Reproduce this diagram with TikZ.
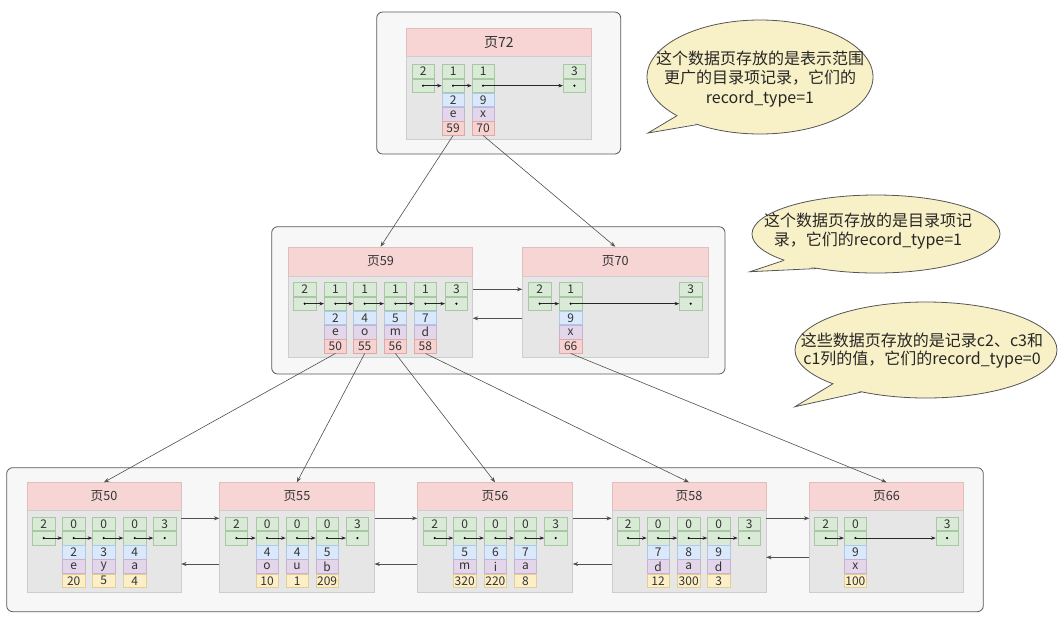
\documentclass[tikz,border=0pt]{standalone}
\usepackage{fontspec}
\setmainfont{Noto Sans CJK SC}
\usetikzlibrary{shapes.geometric,arrows.meta,calc}
\definecolor{txt}{HTML}{333333}
\definecolor{gfill}{HTML}{D9EBD7}
\definecolor{gline}{HTML}{A8C8A4}
\definecolor{bfill}{HTML}{DAE8FC}
\definecolor{bline}{HTML}{B0C8E8}
\definecolor{pfill}{HTML}{E3D6EA}
\definecolor{pline}{HTML}{C6B2D2}
\definecolor{rfill}{HTML}{F8D2D0}
\definecolor{rline}{HTML}{DDAAA8}
\definecolor{yfill}{HTML}{FCEFC8}
\definecolor{yline}{HTML}{E2CF98}
\definecolor{hfill}{HTML}{F7D5D5}
\definecolor{hline}{HTML}{E2BDBD}
\definecolor{bdfill}{HTML}{E6E6E6}
\definecolor{bdline}{HTML}{CDCDCD}
\definecolor{ofill}{HTML}{F7F7F7}
\definecolor{oline}{HTML}{5A5A5A}
\definecolor{lnk}{HTML}{505050}
\definecolor{bubfill}{HTML}{F8F0C6}
\definecolor{bubline}{HTML}{555555}
\tikzset{
  cellbase/.style={draw, line width=0.4pt, minimum width=16.7pt, minimum height=10.275pt,
    inner sep=0pt, font=\fontsize{9}{9}\selectfont, text=txt},
  gc/.style={cellbase, fill=gfill, draw=gline},
  bc/.style={cellbase, fill=bfill, draw=bline},
  pc/.style={cellbase, fill=pfill, draw=pline},
  rc/.style={cellbase, fill=rfill, draw=rline},
  yc/.style={cellbase, fill=yfill, draw=yline},
  hdr/.style={draw=hline, fill=hfill, inner sep=0pt, line width=0.4pt,
    font=\fontsize{9.5}{10}\selectfont, text=txt},
  bdy/.style={draw=bdline, fill=bdfill, inner sep=0pt, line width=0.4pt},
  outerbox/.style={draw=oline, fill=ofill, rounded corners=4.5pt, line width=0.6pt},
  ptr/.style={-{Stealth[length=3.5pt,width=2.6pt]}, line width=0.5pt, draw=black!85},
  link/.style={-{Stealth[length=4pt,width=3pt]}, line width=0.45pt, draw=lnk},
  bubble/.style={ellipse, draw=bubline, fill=bubfill, line width=0.6pt, inner sep=0pt},
  bubtext/.style={align=center, text=black!85, inner sep=0pt},
}
\newcommand{\sysrec}[4]{%
  \node[gc,anchor=north west] (#1a) at (#2,#3) {#4};
  \node[gc,anchor=north] (#1b) at (#1a.south) {};
  \fill (#1b.center) circle (0.9pt);
}
\newcommand{\keyrec}[8]{%
  \sysrec{#1}{#2}{#3}{#4}
  \node[bc,anchor=north] (#1c) at (#1b.south) {#5};
  \node[pc,anchor=north] (#1d) at (#1c.south) {#6};
  \node[#8,anchor=north] (#1e) at (#1d.south) {#7};
}
\newcommand{\dpage}[7]{%
  \node[hdr,anchor=north west,minimum width={(#3-#2)*0.75pt},minimum height={(#5-#4)*0.75pt}] (#1) at (#2,#4) {#7};
  \node[bdy,anchor=north west,minimum width={(#3-#2)*0.75pt},minimum height={(#6-#5)*0.75pt}] (#1body) at (#2,#5) {};
}
\begin{document}
\begin{tikzpicture}[x=0.75pt,y=-0.75pt]
\fill[white] (0,0) rectangle (1064,626);
\useasboundingbox (0,0) rectangle (1064,626);

% ---------- top level ----------
\draw[outerbox] (376.7,12) rectangle (620.7,154);
\dpage{p72}{406}{591}{28.3}{56}{139}{\fontsize{10.5}{11}\selectfont 页72}
\sysrec{q72i}{411.7}{64.3}{2}
\keyrec{q72x}{441.7}{64.3}{1}{2}{e}{59}{rc}
\keyrec{q72y}{471.7}{64.3}{1}{9}{x}{70}{rc}
\sysrec{q72s}{563}{64.3}{3}
\draw[ptr] (q72ib.center) -- (q72xb.west);
\draw[ptr] (q72xb.center) -- (q72yb.west);
\draw[ptr] (q72yb.center) -- (q72sb.west);

% ---------- middle level ----------
\draw[outerbox] (271.7,226.7) rectangle (725,374);
\dpage{p59}{288.3}{472.3}{246.7}{275.7}{357.3}{页59}
\sysrec{q59i}{293.3}{282.3}{2}
\keyrec{q59a}{324}{282.3}{1}{2}{e}{50}{rc}
\keyrec{q59b}{353.3}{282.3}{1}{4}{o}{55}{rc}
\keyrec{q59c}{384}{282.3}{1}{5}{m}{56}{rc}
\keyrec{q59d}{414}{282.3}{1}{7}{d}{58}{rc}
\sysrec{q59s}{445}{282.3}{3}
\draw[ptr] (q59ib.center) -- (q59ab.west);
\draw[ptr] (q59ab.center) -- (q59bb.west);
\draw[ptr] (q59bb.center) -- (q59cb.west);
\draw[ptr] (q59cb.center) -- (q59db.west);
\draw[ptr] (q59db.center) -- (q59sb.west);

\dpage{p70}{522.3}{707.7}{246.7}{275.7}{357.3}{页70}
\sysrec{q70i}{528.3}{282.3}{2}
\keyrec{q70a}{559.3}{282.3}{1}{9}{x}{66}{rc}
\sysrec{q70s}{679.3}{282.3}{3}
\draw[ptr] (q70ib.center) -- (q70ab.west);
\draw[ptr] (q70ab.center) -- (q70sb.west);

\coordinate (m1) at (0,289.3);
\coordinate (m2) at (0,318.3);
\draw[link] (p59body.east |- m1) -- (p70body.west |- m1);
\draw[link] (p70body.west |- m2) -- (p59body.east |- m2);

% ---------- leaf level ----------
\draw[outerbox] (6.7,467.7) rectangle (983.3,611.7);

\dpage{p50}{26.7}{180.7}{482.3}{510}{592.3}{页50}
\sysrec{q50i}{32.3}{516.7}{2}
\keyrec{q50a}{62.3}{516.7}{0}{2}{e}{20}{yc}
\keyrec{q50b}{92.3}{516.7}{0}{3}{y}{5}{yc}
\keyrec{q50c}{123.3}{516.7}{0}{4}{a}{4}{yc}
\sysrec{q50s}{153.3}{516.7}{3}
\draw[ptr] (q50ib.center) -- (q50ab.west);
\draw[ptr] (q50ab.center) -- (q50bb.west);
\draw[ptr] (q50bb.center) -- (q50cb.west);
\draw[ptr] (q50cb.center) -- (q50sb.west);

\dpage{p55}{219.3}{374}{482.3}{510}{592.3}{页55}
\sysrec{q55i}{225}{516.7}{2}
\keyrec{q55a}{255.7}{516.7}{0}{4}{o}{10}{yc}
\keyrec{q55b}{285.7}{516.7}{0}{4}{u}{1}{yc}
\keyrec{q55c}{315.7}{516.7}{0}{5}{b}{209}{yc}
\sysrec{q55s}{346}{516.7}{3}
\draw[ptr] (q55ib.center) -- (q55ab.west);
\draw[ptr] (q55ab.center) -- (q55bb.west);
\draw[ptr] (q55bb.center) -- (q55cb.west);
\draw[ptr] (q55cb.center) -- (q55sb.west);

\dpage{p56}{417.3}{572.3}{482.3}{510}{592.3}{页56}
\sysrec{q56i}{423.3}{516.7}{2}
\keyrec{q56a}{453.3}{516.7}{0}{5}{m}{320}{yc}
\keyrec{q56b}{484}{516.7}{0}{6}{i}{220}{yc}
\keyrec{q56c}{514}{516.7}{0}{7}{a}{8}{yc}
\sysrec{q56s}{544.3}{516.7}{3}
\draw[ptr] (q56ib.center) -- (q56ab.west);
\draw[ptr] (q56ab.center) -- (q56bb.west);
\draw[ptr] (q56bb.center) -- (q56cb.west);
\draw[ptr] (q56cb.center) -- (q56sb.west);

\dpage{p58}{611.7}{765.7}{482.3}{510}{592.3}{页58}
\sysrec{q58i}{616.7}{516.7}{2}
\keyrec{q58a}{646.7}{516.7}{0}{7}{d}{12}{yc}
\keyrec{q58b}{677.3}{516.7}{0}{8}{a}{300}{yc}
\keyrec{q58c}{707.3}{516.7}{0}{9}{d}{3}{yc}
\sysrec{q58s}{737.7}{516.7}{3}
\draw[ptr] (q58ib.center) -- (q58ab.west);
\draw[ptr] (q58ab.center) -- (q58bb.west);
\draw[ptr] (q58bb.center) -- (q58cb.west);
\draw[ptr] (q58cb.center) -- (q58sb.west);

\dpage{p66}{809.3}{963.3}{482.3}{510}{592.3}{页66}
\sysrec{q66i}{814.3}{516.7}{2}
\keyrec{q66a}{844}{516.7}{0}{9}{x}{100}{yc}
\sysrec{q66s}{935.7}{516.7}{3}
\draw[ptr] (q66ib.center) -- (q66ab.west);
\draw[ptr] (q66ab.center) -- (q66sb.west);

\coordinate (l1) at (0,518.3);
\coordinate (l2) at (0,564);
\coordinate (l3) at (0,557.3);
\draw[link] (p50body.east |- l1) -- (p55body.west |- l1);
\draw[link] (p55body.west |- l2) -- (p50body.east |- l2);
\draw[link] (p55body.east |- l1) -- (p56body.west |- l1);
\draw[link] (p56body.west |- l2) -- (p55body.east |- l2);
\draw[link] (p56body.east |- l1) -- (p58body.west |- l1);
\draw[link] (p58body.west |- l2) -- (p56body.east |- l2);
\draw[link] (p58body.east |- l1) -- (p66body.west |- l1);
\draw[link] (p66body.west |- l3) -- (p58body.east |- l3);

% ---------- level connectors ----------
\draw[link] (q72xe.south) -- (p59.north);
\draw[link] (q72ye.south) -- (p70.north);
\draw[link] (q59ae.south) -- (p50.north);
\draw[link] (q59be.south) -- (p55.north);
\draw[link] (q59ce.south) -- (p56.north);
\draw[link] (q59de.south) -- (p58.north);
\draw[link] (q70ae.south) -- (p66.north);

% ---------- callouts ----------
\node[bubble, minimum width=169.5pt, minimum height=85.5pt] (c1) at (760,77) {};
\coordinate (c1tip) at (648,133);
\fill[bubfill] (c1tip) -- ($(c1.205)!2pt!(c1.center)$) -- ($(c1.217)!2pt!(c1.center)$) -- cycle;
\draw[bubline, line width=0.6pt] (c1.205) -- (c1tip) -- (c1.217);
\node[bubtext, font=\fontsize{12}{14.5}\selectfont] (c1t) at (760,79)
  {这个数据页存放的是表示范围\\更广的目录项记录，它们的\\record\_type=1};

\node[bubble, minimum width=186pt, minimum height=58.5pt] (c2) at (876,234) {};
\coordinate (c2tip) at (750,271.7);
\fill[bubfill] (c2tip) -- ($(c2.196)!2pt!(c2.center)$) -- ($(c2.210)!2pt!(c2.center)$) -- cycle;
\draw[bubline, line width=0.6pt] (c2.196) -- (c2tip) -- (c2.210);
\node[bubtext, font=\fontsize{12}{14}\selectfont] (c2t) at (868,231)
  {这个数据页存放的是目录项记\\录，它们的record\_type=1};

\node[bubble, minimum width=196.5pt, minimum height=72pt] (c3) at (926,350) {};
\coordinate (c3tip) at (795,406.7);
\fill[bubfill] (c3tip) -- ($(c3.200)!2pt!(c3.center)$) -- ($(c3.213)!2pt!(c3.center)$) -- cycle;
\draw[bubline, line width=0.6pt] (c3.200) -- (c3tip) -- (c3.213);
\node[bubtext, font=\fontsize{12}{13.5}\selectfont] (c3t) at (922,351)
  {这些数据页存放的是记录c2、c3和\\c1列的值，它们的record\_type=0};
\end{tikzpicture}
\end{document}
